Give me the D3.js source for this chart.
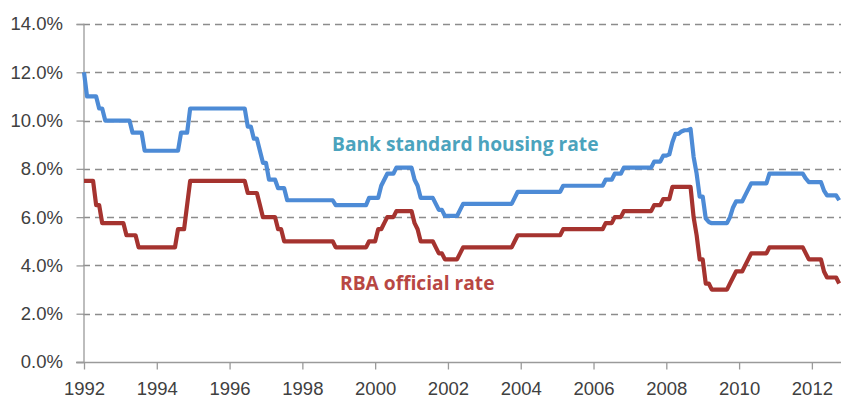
<!DOCTYPE html>
<html>
<head>
<meta charset="utf-8">
<script src="https://cdn.jsdelivr.net/npm/d3@7"></script>
<style>
  html, body { margin: 0; padding: 0; background: #fff; }
  svg { display: block; font-family: "Open Sans", "Noto Sans", sans-serif; }
</style>
</head>
<body>
<svg id="chart" width="841" height="401"></svg>
<script>
// ---- data (monthly, starting January 1992) ----
const startYear = 1992;
const xTickYears = [1992, 1994, 1996, 1998, 2000, 2002, 2004, 2006, 2008, 2010, 2012];
const yTickValues = [0, 2, 4, 6, 8, 10, 12, 14];
const seriesNames = ["Bank standard housing rate", "RBA official rate"];

const housingRate = [
  12.0, 11.0, 11.0, 11.0, 11.0, 10.5, 10.5, 10.0, 10.0, 10.0, 10.0, 10.0,   // 1992
  10.0, 10.0, 10.0, 10.0, 9.5, 9.5, 9.5, 9.5, 8.75, 8.75, 8.75, 8.75,       // 1993
  8.75, 8.75, 8.75, 8.75, 8.75, 8.75, 8.75, 8.75, 9.5, 9.5, 9.5, 10.5,      // 1994
  10.5, 10.5, 10.5, 10.5, 10.5, 10.5, 10.5, 10.5, 10.5, 10.5, 10.5, 10.5,   // 1995
  10.5, 10.5, 10.5, 10.5, 10.5, 10.5, 9.75, 9.75, 9.25, 9.25, 8.75, 8.25,   // 1996
  8.25, 7.55, 7.55, 7.55, 7.2, 7.2, 7.2, 6.7, 6.7, 6.7, 6.7, 6.7,           // 1997
  6.7, 6.7, 6.7, 6.7, 6.7, 6.7, 6.7, 6.7, 6.7, 6.7, 6.7, 6.5,               // 1998
  6.5, 6.5, 6.5, 6.5, 6.5, 6.5, 6.5, 6.5, 6.5, 6.5, 6.8, 6.8,               // 1999
  6.8, 6.8, 7.3, 7.55, 7.8, 7.8, 7.8, 8.05, 8.05, 8.05, 8.05, 8.05,         // 2000
  8.05, 7.55, 7.3, 6.8, 6.8, 6.8, 6.8, 6.8, 6.55, 6.3, 6.3, 6.05,           // 2001
  6.05, 6.05, 6.05, 6.05, 6.3, 6.55, 6.55, 6.55, 6.55, 6.55, 6.55, 6.55,    // 2002
  6.55, 6.55, 6.55, 6.55, 6.55, 6.55, 6.55, 6.55, 6.55, 6.55, 6.8, 7.05,    // 2003
  7.05, 7.05, 7.05, 7.05, 7.05, 7.05, 7.05, 7.05, 7.05, 7.05, 7.05, 7.05,   // 2004
  7.05, 7.05, 7.3, 7.3, 7.3, 7.3, 7.3, 7.3, 7.3, 7.3, 7.3, 7.3,             // 2005
  7.3, 7.3, 7.3, 7.3, 7.55, 7.55, 7.55, 7.8, 7.8, 7.8, 8.05, 8.05,          // 2006
  8.05, 8.05, 8.05, 8.05, 8.05, 8.05, 8.05, 8.05, 8.3, 8.3, 8.3, 8.55,      // 2007
  8.55, 8.6, 9.1, 9.45, 9.45, 9.55, 9.6, 9.6, 9.65, 8.5, 7.8, 6.85,         // 2008
  6.85, 5.95, 5.8, 5.75, 5.75, 5.75, 5.75, 5.75, 5.75, 6.0, 6.4, 6.65,      // 2009
  6.65, 6.65, 6.9, 7.15, 7.4, 7.4, 7.4, 7.4, 7.4, 7.4, 7.8, 7.8,            // 2010
  7.8, 7.8, 7.8, 7.8, 7.8, 7.8, 7.8, 7.8, 7.8, 7.8, 7.6, 7.45,              // 2011
  7.45, 7.45, 7.45, 7.45, 7.1, 6.9, 6.9, 6.9, 6.9, 6.7                      // 2012
];

const rbaRate = [
  7.5, 7.5, 7.5, 7.5, 6.5, 6.5, 5.75, 5.75, 5.75, 5.75, 5.75, 5.75,         // 1992
  5.75, 5.75, 5.25, 5.25, 5.25, 5.25, 4.75, 4.75, 4.75, 4.75, 4.75, 4.75,   // 1993
  4.75, 4.75, 4.75, 4.75, 4.75, 4.75, 4.75, 5.5, 5.5, 5.5, 6.5, 7.5,        // 1994
  7.5, 7.5, 7.5, 7.5, 7.5, 7.5, 7.5, 7.5, 7.5, 7.5, 7.5, 7.5,               // 1995
  7.5, 7.5, 7.5, 7.5, 7.5, 7.5, 7.0, 7.0, 7.0, 7.0, 6.5, 6.0,               // 1996
  6.0, 6.0, 6.0, 6.0, 5.5, 5.5, 5.0, 5.0, 5.0, 5.0, 5.0, 5.0,               // 1997
  5.0, 5.0, 5.0, 5.0, 5.0, 5.0, 5.0, 5.0, 5.0, 5.0, 5.0, 4.75,              // 1998
  4.75, 4.75, 4.75, 4.75, 4.75, 4.75, 4.75, 4.75, 4.75, 4.75, 5.0, 5.0,     // 1999
  5.0, 5.5, 5.5, 5.75, 6.0, 6.0, 6.0, 6.25, 6.25, 6.25, 6.25, 6.25,         // 2000
  6.25, 5.75, 5.5, 5.0, 5.0, 5.0, 5.0, 5.0, 4.75, 4.5, 4.5, 4.25,           // 2001
  4.25, 4.25, 4.25, 4.25, 4.5, 4.75, 4.75, 4.75, 4.75, 4.75, 4.75, 4.75,    // 2002
  4.75, 4.75, 4.75, 4.75, 4.75, 4.75, 4.75, 4.75, 4.75, 4.75, 5.0, 5.25,    // 2003
  5.25, 5.25, 5.25, 5.25, 5.25, 5.25, 5.25, 5.25, 5.25, 5.25, 5.25, 5.25,   // 2004
  5.25, 5.25, 5.5, 5.5, 5.5, 5.5, 5.5, 5.5, 5.5, 5.5, 5.5, 5.5,             // 2005
  5.5, 5.5, 5.5, 5.5, 5.75, 5.75, 5.75, 6.0, 6.0, 6.0, 6.25, 6.25,          // 2006
  6.25, 6.25, 6.25, 6.25, 6.25, 6.25, 6.25, 6.25, 6.5, 6.5, 6.5, 6.75,      // 2007
  6.75, 6.75, 7.25, 7.25, 7.25, 7.25, 7.25, 7.25, 7.25, 6.0, 5.25, 4.25,    // 2008
  4.25, 3.25, 3.25, 3.0, 3.0, 3.0, 3.0, 3.0, 3.0, 3.25, 3.5, 3.75,          // 2009
  3.75, 3.75, 4.0, 4.25, 4.5, 4.5, 4.5, 4.5, 4.5, 4.5, 4.75, 4.75,          // 2010
  4.75, 4.75, 4.75, 4.75, 4.75, 4.75, 4.75, 4.75, 4.75, 4.75, 4.5, 4.25,    // 2011
  4.25, 4.25, 4.25, 4.25, 3.75, 3.5, 3.5, 3.5, 3.5, 3.25                    // 2012
];

// ---- chart ----
const svg = d3.select("#chart");
const W = 841, H = 401;
const plot = { left: 84, right: 841, top: 24, bottom: 362 };

const x = d3.scaleLinear().domain([1992, 2012.8]).range([plot.left, plot.right]);
const y = d3.scaleLinear().domain([0, 14]).range([plot.bottom, plot.top]);

const textColor = "#404040";
const axisColor = "#9a9a9a";
const gridColor = "#8c8c8c";

// gridlines (dashed)
const grid = svg.append("g");
grid.selectAll("line")
  .data(yTickValues.filter(v => v > 0))
  .join("line")
  .attr("x1", plot.left - 1)
  .attr("x2", W)
  .attr("y1", d => Math.round(y(d)) + 0.5)
  .attr("y2", d => Math.round(y(d)) + 0.5)
  .attr("stroke", gridColor)
  .attr("stroke-width", 1.3)
  .attr("stroke-dasharray", "7,5");

// y axis
const yAxis = d3.axisLeft(y)
  .tickValues(yTickValues)
  .tickSize(7)
  .tickPadding(6)
  .tickFormat(d => d.toFixed(1) + "%");
const gy = svg.append("g")
  .attr("transform", `translate(${plot.left - 0.5},0)`)
  .call(yAxis);
gy.select(".domain").attr("stroke", axisColor).attr("stroke-width", 1.3);
gy.selectAll(".tick line").attr("stroke", axisColor).attr("stroke-width", 1.3);
gy.selectAll(".tick text")
  .attr("fill", textColor)
  .style("font-size", "18.5px")
  .attr("x", -20.5);

// x axis
const xAxis = d3.axisBottom(x)
  .tickValues(xTickYears)
  .tickSize(7)
  .tickPadding(12)
  .tickFormat(d3.format("d"));
const gx = svg.append("g")
  .attr("transform", `translate(0,${plot.bottom + 0.5})`)
  .call(xAxis);
gx.select(".domain").attr("stroke", axisColor).attr("stroke-width", 1.3)
  .attr("d", `M${plot.left - 8},0H${W}`);
gx.selectAll(".tick line").attr("stroke", axisColor).attr("stroke-width", 1.3);
gx.selectAll(".tick text")
  .attr("fill", textColor)
  .style("font-size", "18.5px");

// lines
const line = d3.line()
  .x((d, i) => x(startYear + i / 12))
  .y(d => y(d));

svg.append("path")
  .datum(housingRate)
  .attr("fill", "none")
  .attr("stroke", "#4d8bd6")
  .attr("stroke-width", 4.2)
  .attr("stroke-linejoin", "round")
  .attr("d", line);

svg.append("path")
  .datum(rbaRate)
  .attr("fill", "none")
  .attr("stroke", "#a5332f")
  .attr("stroke-width", 4.2)
  .attr("stroke-linejoin", "round")
  .attr("d", line);

// annotations
svg.append("text")
  .attr("x", 332).attr("y", 150.5)
  .attr("fill", "#4ba3bd")
  .style("font-size", "19.2px")
  .style("font-weight", "bold")
  .text(seriesNames[0]);

svg.append("text")
  .attr("x", 340).attr("y", 289.5)
  .attr("fill", "#b84743")
  .style("font-size", "19.2px")
  .style("font-weight", "bold")
  .text(seriesNames[1]);
</script>
</body>
</html>
